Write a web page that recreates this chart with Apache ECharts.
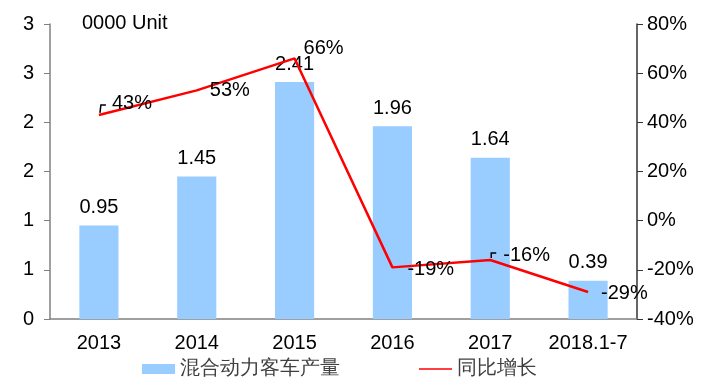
<!DOCTYPE html>
<html><head><meta charset="utf-8">
<script src="https://cdn.jsdelivr.net/npm/echarts@6/dist/echarts.min.js"></script>
<style>html,body{margin:0;padding:0;background:#fff}#c{width:711px;height:389px}</style>
</head><body><div id="c"></div>
<script>
var categories = ['2013','2014','2015','2016','2017','2018.1-7'];
var production = [0.95, 1.45, 2.41, 1.96, 1.64, 0.39];
var growth = [43, 53, 66, -19, -16, -29];
var leftTickLabels = ['0','1','1','2','2','3','3'];
var seriesNames = ['混合动力客车产量','同比增长'];
var unitText = '0000 Unit';
var leaderIdx = [0, 4];

var FONT = 'Liberation Sans, Arial, sans-serif';
var FS = 20;
var labelOffsets = [[-1,-11],[-1,0],[-5,-10],[1,2],[-1,-5],[-1,2]];
var leaderShapes = {0: [[1,-2],[2,-10],[7,-10]], 4: [[1,-2],[1,-7],[6,-7]]};

var chart = echarts.init(document.getElementById('c'));
chart.setOption({
  animation: false,
  textStyle: {fontFamily: FONT},
  grid: {left: 50, right: 74, top: 24, bottom: 70, containLabel: false},
  legend: {
    bottom: 5, left: 137, itemGap: 79, itemWidth: 33, itemHeight: 10,
    textStyle: {fontSize: 19.5, color: '#404040', fontFamily: FONT},
    data: [{name: seriesNames[0], icon: 'rect'}, {name: seriesNames[1], icon: 'path://M0,4.2 L34,4.2 L34,5.8 L0,5.8 Z'}]
  },
  xAxis: {
    type: 'category', data: categories,
    axisLine: {lineStyle: {color: '#808080', width: 1.5}},
    axisTick: {inside: true, length: 5, lineStyle: {color: '#808080'}},
    axisLabel: {fontSize: FS, color: '#000', margin: 14, interval: 0, hideOverlap: false}
  },
  yAxis: [{
    type: 'value', min: 0, max: 3, interval: 0.5,
    axisLine: {show: true, lineStyle: {color: '#808080', width: 1.5}},
    axisTick: {show: true, length: 6, lineStyle: {color: '#808080'}},
    splitLine: {show: false},
    axisLabel: {fontSize: FS, color: '#000', margin: 16, formatter: function(v){ return leftTickLabels[Math.round(v/0.5)]; }}
  }, {
    type: 'value', min: -40, max: 80, interval: 20, position: 'right',
    axisLine: {show: true, lineStyle: {color: '#333', width: 1.5}},
    axisTick: {show: true, length: 6, lineStyle: {color: '#333'}},
    splitLine: {show: false},
    axisLabel: {fontSize: FS, color: '#000', margin: 10, formatter: '{value}%'}
  }],
  series: [{
    name: seriesNames[0], type: 'bar', barWidth: '40%', yAxisIndex: 0,
    itemStyle: {color: '#99CCFF'},
    label: {show: true, position: 'top', distance: 8, fontSize: FS, color: '#000', fontFamily: FONT},
    data: production
  }, {
    name: seriesNames[1], type: 'line', yAxisIndex: 1, symbol: 'circle', symbolSize: 0.01, showSymbol: true,
    lineStyle: {color: '#FF0000', width: 2.5}, itemStyle: {color: '#FF0000'},
    z: 3,
    data: growth.map(function(v, i){
      return {value: v, label: {show: true, position: 'right', distance: 14, offset: labelOffsets[i], formatter: v + '%', fontSize: FS, color: '#000', fontFamily: FONT}};
    })
  }]
});

var gfx = [{type: 'text', left: 82, top: 13, style: {text: unitText, fontSize: FS, fontFamily: FONT, fill: '#000'}}];
leaderIdx.forEach(function(i){
  var p = chart.convertToPixel({xAxisIndex: 0, yAxisIndex: 1}, [i, growth[i]]);
  gfx.push({type: 'polyline', z: 10, shape: {points: leaderShapes[i].map(function(d){ return [p[0]+d[0], p[1]+d[1]]; })},
    style: {stroke: '#000', lineWidth: 1.5, fill: null}});
});
chart.setOption({graphic: gfx});
</script></body></html>
